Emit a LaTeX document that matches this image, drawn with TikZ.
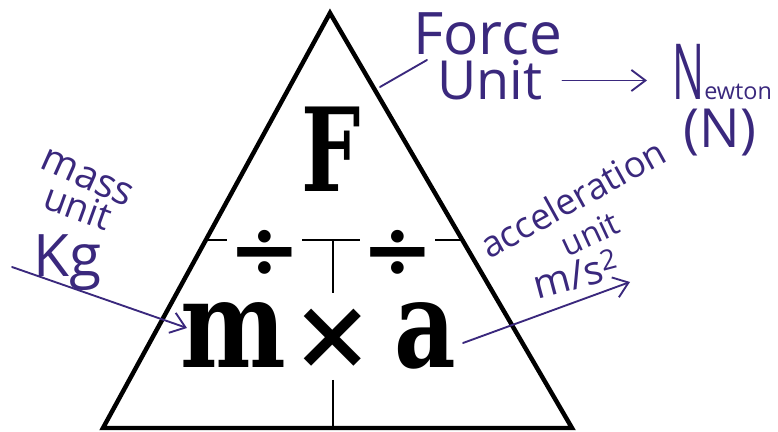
\documentclass[tikz,border=0pt]{standalone}
\usepackage{fontspec}
\newfontfamily\handfont{Open Sans}
\newfontfamily\slabfont{DejaVu Serif}
\usetikzlibrary{arrows.meta}

\definecolor{ink}{RGB}{58,40,125}

\tikzset{
    tri/.style={line width=3.8pt, line join=miter},
    divline/.style={line width=2.5pt},
    handline/.style={draw=ink, line width=1.6pt, line cap=round},
    handarrow/.style={handline, -{Straight Barb[length=12pt,width=18pt,line width=1.6pt]}},
    hand/.style={text=ink, inner sep=0pt, font=\handfont\fontsize{#1}{#1}\selectfont},
    bigletter/.style={inner sep=0pt, anchor=base, font=\slabfont\bfseries\fontsize{#1}{#1}\selectfont},
    bigsym/.style={inner sep=0pt, font=\slabfont\bfseries\fontsize{#1}{#1}\selectfont},
}

\begin{document}
\begin{tikzpicture}[x=0.03cm, y=-0.03cm]
        \useasboundingbox (0,0) rectangle (778,432);

        % vrcholy trojuhelniku
        \coordinate (apex) at (330,13);
        \coordinate (baseL) at (103,428);
        \coordinate (baseR) at (572,428);
        \draw[tri] (apex) -- (baseL) -- (baseR) -- cycle;

        % deleni
        \draw[divline] (205,240) -- (227,240);
        \draw[divline] (302,240) -- (360,240);
        \draw[divline] (435,240) -- (464,240);
        \draw[divline] (333,240) -- (333,293);
        \draw[divline] (333,380) -- (333,428);

        % pismena
        \node[bigletter=99] (F) at (331,192) {\scalebox{0.72}[1]{F}};
        \node[bigletter=104] (m) at (233,368) {\scalebox{0.82}[1]{m}};
        \node[bigletter=104] (a) at (425,368) {\scalebox{0.78}[1]{a}};
        \node[bigsym=84] (times) at (333,339) {×};
        \node[bigsym=74] (divL) at (265,255) {÷};
        \node[bigsym=74] (divR) at (398,255) {÷};

        % poznamky - sila
        \node[hand=50, anchor=base west] (force) at (413,55) {Force};
        \node[hand=46, anchor=base west] (unitF) at (437,100) {Unit};
        \node[hand=20, anchor=base west] (newton) at (672,100) {{\fontsize{66}{66}\selectfont\scalebox{0.55}[1]{N}}ewton};
        \node[hand=46] (newtonN) at (720,133) {(N)};
        \coordinate (forceFoot) at (380,87);
        \coordinate (forceHook) at (427,60);
        \draw[handline] (forceFoot) -- (forceHook);
        \draw[handarrow, shorten <=0.6cm, shorten >=0.75cm] (unitF.east) -- (unitF.east -| newton.west);

        % poznamky - hmotnost
        \node[hand=34, rotate=-24] (mass) at (87,178) {mass};
        \node[hand=32, rotate=-20] (unitM) at (78,207) {unit};
        \node[hand=50, anchor=base west] (kg) at (33,277) {Kg};
        \coordinate (kgTail) at (12,267);
        \coordinate (kgTip) at (187,328);
        \draw[handarrow] (kgTail) -- (kgTip);

        % poznamky - zrychleni
        \node[hand=31, rotate=29, anchor=base west] (accel) at (489,260) {acceleration};
        \node[hand=28, rotate=25] (unitA) at (590,234) {unit};
        \node[hand=34, rotate=15, anchor=base west] (ms) at (537,300) {m/s\textsuperscript{2}};
        \coordinate (accTail) at (463,343);
        \coordinate (accTip) at (630,282);
        \draw[handarrow] (accTail) -- (accTip);

\end{tikzpicture}
\end{document}
